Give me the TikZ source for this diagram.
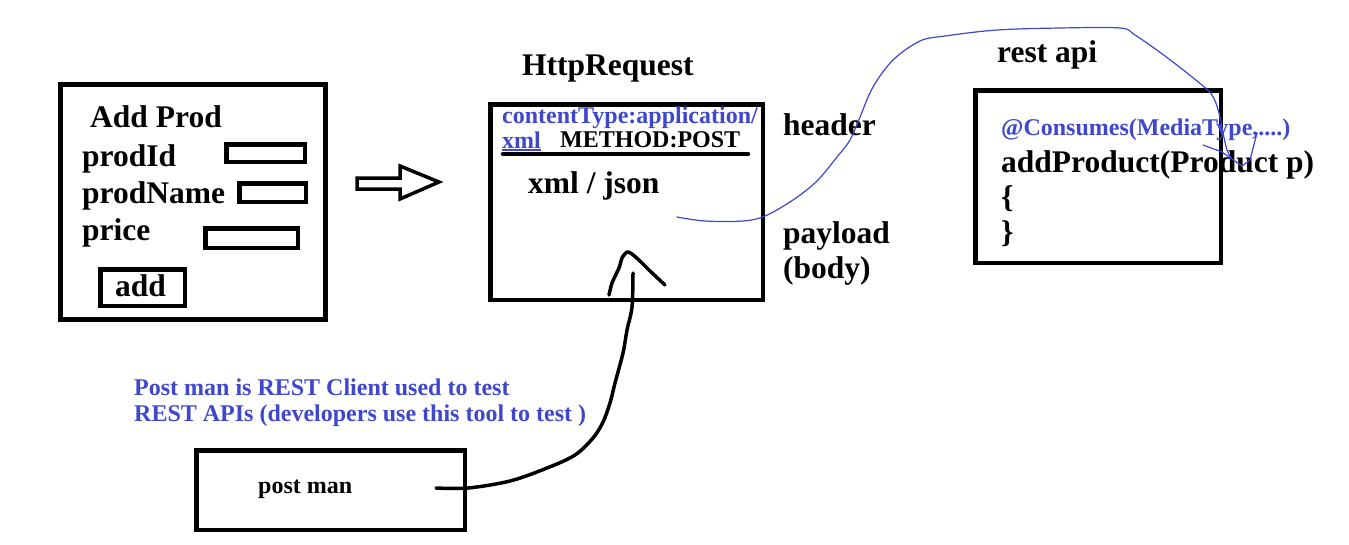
\documentclass[tikz,border=0pt]{standalone}
\usepackage{fontspec}
\setmainfont{Liberation Serif}
\definecolor{indigo}{RGB}{63,72,204}
\tikzset{
  box/.style={draw, line width=4.5pt, inner sep=0pt},
  big/.style={inner sep=0pt, anchor=base west, font=\fontsize{31.5}{36}\selectfont\bfseries},
  small/.style={inner sep=0pt, anchor=base west, font=\fontsize{24}{28}\selectfont\bfseries},
  note/.style={small, text=indigo},
  wire/.style={line width=3.5pt, line cap=round, line join=round},
  thin/.style={draw=indigo, line width=1.2pt, line cap=round, line join=round}
}
\begin{document}
\begin{tikzpicture}[x=1pt, y=-1pt]
\useasboundingbox (0,0) rectangle (1349,544);
% left form
\node[box, minimum width=265pt, minimum height=235pt] (form) at (193,202) {};
\node[big] (title) at (90,127) {Add Prod};
\node[big] (lid) at (82,166) {prodId};
\node[big] (lname) at (82,203) {prodName};
\node[big] (lprice) at (82,240) {price};
\node[box, minimum width=78.5pt, minimum height=17.5pt] (in1) at (265.5,153) {};
\node[box, minimum width=66.5pt, minimum height=18.5pt] (in2) at (272.5,192.5) {};
\node[box, minimum width=92.5pt, minimum height=19.5pt] (in3) at (251.5,238) {};
\node[box, minimum width=84.5pt, minimum height=36.5pt] (addbtn) at (142.5,287.5) {};
\node[big] (addtxt) at (115,296) {add};
% hollow arrow
\draw[line width=3.5pt, line join=miter] (357,178) -- (400,178) -- (400,166) -- (439,182) -- (400,199) -- (400,189) -- (357,189) -- cycle;
% http request
\node[big] (http) at (522,75) {HttpRequest};
\node[box, minimum width=272.5pt, minimum height=195.5pt] (req) at (626.5,202) {};
\node[note] (ct) at (502,123) {contentType:application/};
\node[note] (ctxml) at (502,148) {xml};
\draw[indigo, line width=1.6pt] (ctxml.south west) ++(0,2) coordinate (ula) (ctxml.south east) ++(0,2) coordinate (ulb);
\draw[indigo, line width=1.6pt] (ula) -- (ulb);
\node[small] (meth) at (560,147) {METHOD:POST};
\coordinate (sepa) at (503,154);
\coordinate (sepb) at (748,154);
\draw[line width=4.5pt, line cap=round] (sepa) -- (sepb);
\node[big] (body) at (528,193) {xml / json};
\node[big] (hdr) at (783,135) {header};
\node[big] (pay) at (783,243) {payload};
\node[big] (bdy) at (783,278) {(body)};
% rest api
\node[big] (rest) at (997,62) {rest api};
\node[box, minimum width=245.5pt, minimum height=172.5pt] (api) at (1098,176.5) {};
\node[note] (cons) at (1001,135) {@Consumes(MediaType,....)};
\node[big] (meth2) at (1001,172) {addProduct(Product p)};
\node[big] (ob) at (1001,207) {\{};
\node[big] (cb) at (1001,242) {\}};
% blue link
\coordinate (bstart) at (677,217);
\coordinate (bend) at (1231,158);
\draw[thin] plot[smooth, tension=0.55] coordinates {(bstart) (705,221) (743,221) (765,216) (793,200) (817,181) (837,157) (850,140) (860,117) (873,87) (893,60) (920,41) (945,36) (997,30) (1060,28) (1120,28) (1135,35) (1165,56) (1197,81) (1212,95) (1219,113) (1223,133) (1227,150) (bend)};
\coordinate (ha) at (1203,145);
\coordinate (hb) at (1257,133);
\draw[thin] (ha) -- (1222,152) -- (1242,166) -- (1250,160) -- (hb);
% postman
\node[note] (n1) at (134,395) {Post man is REST Client used to test};
\node[note] (n2) at (134,421) {REST APIs (developers use this tool to test )};
\node[box, minimum width=268.5pt, minimum height=79.5pt] (pm) at (330.5,490) {};
\node[small] (pmtxt) at (258,493) {post man};
\coordinate (kstart) at (436,488);
\coordinate (kend) at (633,273);
\draw[wire] plot[smooth, tension=0.55] coordinates {(kstart) (468,488) (510,481) (547,468) (575,455) (593,438) (603,422) (610,403) (615,383) (623,353) (627,330) (632,307) (kend)};
\coordinate (ca) at (609,295);
\coordinate (cb2) at (665,285);
\draw[wire] plot[smooth, tension=0.4] coordinates {(ca) (612,283) (619,268) (622,258) (627,252) (632,254) (641,262) (650,271) (cb2)};
\end{tikzpicture}
\end{document}
